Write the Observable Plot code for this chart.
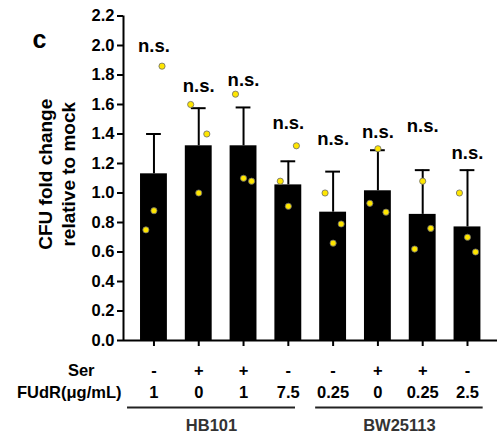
<!DOCTYPE html>
<html>
<head>
<meta charset="utf-8">
<script src="https://cdn.jsdelivr.net/npm/d3@7"></script>
<script src="https://cdn.jsdelivr.net/npm/@observablehq/plot@0.6"></script>
<style>
  html, body { margin: 0; padding: 0; background: white; }
</style>
</head>
<body>
<div id="chart"></div>
<script>
// ---- data ----
const serum   = ["-", "+", "+", "-", "-", "+", "+", "-"];
const fudr    = ["1", "0", "1", "7.5", "0.25", "0", "0.25", "2.5"];
const strain  = ["HB101", "HB101", "HB101", "HB101", "BW25113", "BW25113", "BW25113", "BW25113"];
const means   = [1.13, 1.32, 1.32, 1.055, 0.87, 1.015, 0.855, 0.77];
const sds     = [0.27, 0.255, 0.26, 0.16, 0.275, 0.275, 0.30, 0.385];
const replicates = [
  [1.86, 0.88, 0.75],
  [1.60, 1.40, 1.00],
  [1.67, 1.10, 1.08],
  [1.32, 1.08, 0.91],
  [1.00, 0.79, 0.66],
  [1.30, 0.93, 0.87],
  [1.08, 0.76, 0.62],
  [1.00, 0.70, 0.60]
];
// jitter side of each replicate (-1 left, 0 centre, 1 right)
const jitterSide = [
  [1, 0, -1],
  [-1, 1, 0],
  [-1, 0, 1],
  [1, -1, 0],
  [-1, 1, 0],
  [0, -1, 1],
  [0, 1, -1],
  [-1, 0, 1]
];
const sigText   = ["n.s.", "n.s.", "n.s.", "n.s.", "n.s.", "n.s.", "n.s.", "n.s."];
const sigHeight = [1.955, 1.685, 1.723, 1.432, 1.324, 1.372, 1.414, 1.232];
const yTicks = [0, 0.2, 0.4, 0.6, 0.8, 1.0, 1.2, 1.4, 1.6, 1.8, 2.0, 2.2];
const groups = ["HB101", "BW25113"];

// ---- tables built from the arrays ----
const rows = means.map((m, i) => ({
  i: i + 1, mean: m, top: m + sds[i], serum: serum[i], fudr: fudr[i],
  strain: strain[i], sig: sigText[i], sigY: sigHeight[i]
}));
const points = replicates.flatMap((vals, i) =>
  vals.map((v, j) => ({ i: i + 1, v, side: jitterSide[i][j] })));
const groupRows = groups.map(g => {
  const idx = rows.filter(r => r.strain === g).map(r => r.i);
  return { name: g, first: d3.min(idx), last: d3.max(idx) };
});
// line extents beyond first/last bar (in bar steps), per group
const lineExt = { HB101: [-0.59, 0.16], BW25113: [-0.39, 0.35] };

const n = means.length;
const bold = "bold";
const font = "'Liberation Sans', Arial, Helvetica, sans-serif";

const chart = Plot.plot({
  width: 497,
  height: 435,
  marginLeft: 123,
  marginRight: 0,
  marginTop: 15.5,
  marginBottom: 95,
  style: { fontFamily: font, fontWeight: "bold", color: "black", background: "white" },
  x: { domain: [1 - 0.68, n + 0.67], axis: null },
  y: { domain: [0, 2.2], axis: null },
  marks: [
    // bars
    Plot.rectY(rows, { x1: d => d.i - 0.3, x2: d => d.i + 0.3, y1: 0, y2: "mean", fill: "black" }),
    // error bars (upper)
    Plot.ruleX(rows, { x: "i", y1: "mean", y2: "top", stroke: "black", strokeWidth: 2 }),
    Plot.ruleY(rows, { y: "top", x1: d => d.i - 0.165, x2: d => d.i + 0.165, stroke: "black", strokeWidth: 2 }),
    // replicate points
    Plot.dot(points, { x: d => d.i + d.side * 0.18, y: "v", r: 3.1, fill: "#FFE600", stroke: "#6b6b6b", strokeWidth: 0.8 }),
    // significance labels
    Plot.text(rows, { x: "i", y: "sigY", text: "sig", lineAnchor: "bottom", fontSize: 18.5, fontWeight: bold, fill: "black" }),
    // axes lines
    Plot.ruleY([0], { stroke: "black", strokeWidth: 2 }),
    Plot.ruleX([1 - 0.68], { y1: 0, y2: 2.2, stroke: "black", strokeWidth: 2 }),
    // y axis ticks & labels
    Plot.axisY({ ticks: yTicks, tickFormat: d3.format(".1f"), tickSize: 6, tickPadding: 3,
                 fontSize: 16.5, fontWeight: bold, strokeWidth: 2, label: null }),
    // x axis tick marks (no labels)
    Plot.axisX({ ticks: rows.map(d => d.i), tickFormat: () => "", tickSize: 6, strokeWidth: 2, label: null }),
    // y axis title
    Plot.text(["CFU fold change\nrelative to mock"], {
      frameAnchor: "left", textAnchor: "middle", rotate: -90, dx: -67.5, dy: -4,
      fontSize: 19, lineHeight: 1.2, fontWeight: bold, fill: "black"
    }),
    // panel letter
    Plot.text(["c"], {
      frameAnchor: "top-left", dx: -91, dy: 31.5, textAnchor: "start", lineAnchor: "bottom",
      fontSize: 25, fontWeight: bold, fill: "black"
    }),
    // condition rows
    Plot.text(rows, { x: "i", text: "serum", frameAnchor: "bottom", dy: 35, lineAnchor: "bottom", fontSize: 16.5, fontWeight: bold, fill: "black" }),
    Plot.text(rows, { x: "i", text: "fudr", frameAnchor: "bottom", dy: 57, lineAnchor: "bottom", fontSize: 16.5, fontWeight: bold, fill: "black" }),
    Plot.text(["Ser"], { frameAnchor: "bottom-left", dx: -29, dy: 35, textAnchor: "end", lineAnchor: "bottom", fontSize: 16.5, fontWeight: bold, fill: "black" }),
    Plot.text(["FUdR(μg/mL)"], { frameAnchor: "bottom-left", dx: -2, dy: 57, textAnchor: "end", lineAnchor: "bottom", fontSize: 16.5, fontWeight: bold, fill: "black" }),
    // strain groups
    Plot.ruleY(groupRows, {
      y: () => 0, dy: 67,
      x1: d => d.first + lineExt[d.name][0], x2: d => d.last + lineExt[d.name][1],
      stroke: "#222", strokeWidth: 2
    }),
    Plot.text(groupRows, {
      x: d => ((d.first + lineExt[d.name][0]) + (d.last + lineExt[d.name][1])) / 2,
      text: "name", frameAnchor: "bottom", dy: 90, lineAnchor: "bottom",
      fontSize: 16.5, fontWeight: bold, fill: "#333"
    })
  ]
});
document.getElementById("chart").appendChild(chart);
</script>
</body>
</html>
